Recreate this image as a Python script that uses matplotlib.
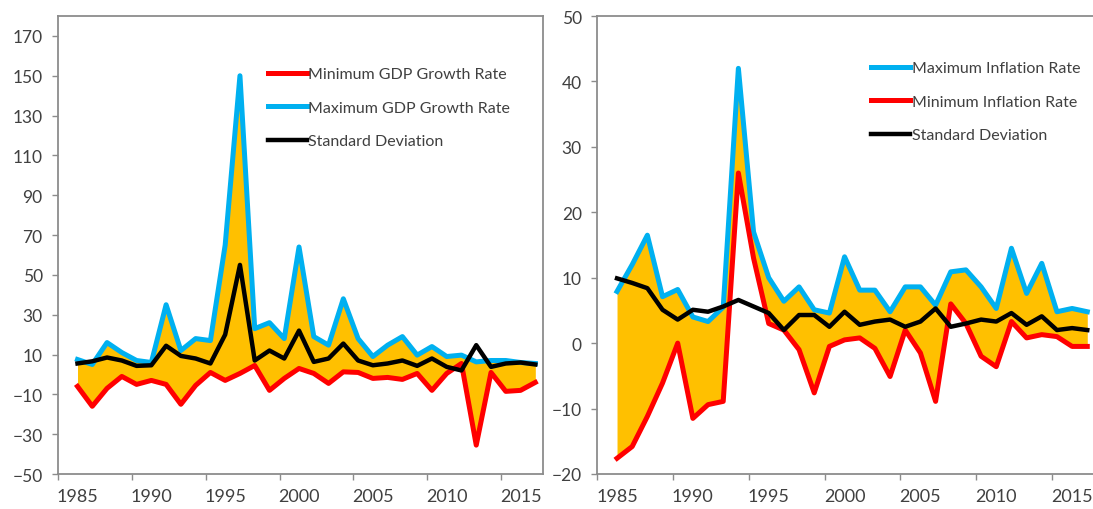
import matplotlib
matplotlib.use("Agg")
import matplotlib.pyplot as plt

plt.rcParams['font.family'] = ['Lato', 'DejaVu Sans']

years = list(range(1985, 2017))

# GDP growth rate panel
gdp_min = [-6, -16, -7, -1, -5, -3, -5, -15, -5.5, 1, -3, 0.5, 4.5, -8, -2, 3,
           0.5, -4.5, 1.3, 1, -2, -1.5, -2.5, 0.5, -8, 0.5, 5.5, -35.5, 1, -8.5, -8, -4]
gdp_max = [7.5, 5, 16, 11, 7, 6, 35, 12, 18, 17, 65, 150, 23, 26, 18, 64,
           19, 14.7, 38, 18, 9, 14.7, 19, 9.7, 14, 9, 9.7, 6.3, 7, 7, 6, 5.5]
gdp_sd = [5.5, 6.6, 8.5, 7, 4.3, 4.6, 14.4, 9.3, 8, 5.5, 20, 55, 7, 12, 8, 22,
          6.3, 8, 15.5, 7, 4.6, 5.5, 7, 4.3, 8, 3.8, 2, 14.7, 3.8, 5.5, 6, 5]

# Inflation rate panel
inf_max = [7.9, 12, 16.5, 7.1, 8.2, 4, 3.3, 5.5, 42, 17, 10, 6.4, 8.6, 5.1, 4.6, 13.2,
           8.1, 8.1, 4.8, 8.6, 8.6, 5.8, 10.9, 11.2, 8.6, 5.3, 14.5, 7.6, 12.2, 4.8, 5.3, 4.8]
inf_min = [-17.6, -15.8, -11.2, -6.1, 0, -11.5, -9.4, -8.9, 26, 13, 3, 2, -1, -7.6, -0.5, 0.5,
           0.8, -0.8, -5.1, 2, -1.5, -8.9, 6, 3, -2, -3.6, 3.3, 0.8, 1.3, 1, -0.5, -0.5]
inf_sd = [9.9, 9.2, 8.4, 5.1, 3.6, 5.1, 4.8, 5.6, 6.6, 5.6, 4.6, 2, 4.3, 4.3, 2.5, 4.8,
          2.8, 3.3, 3.6, 2.5, 3.3, 5.3, 2.5, 3, 3.6, 3.3, 4.6, 2.8, 4.1, 2, 2.3, 2]

label_years = [1985, 1990, 1995, 2000, 2005, 2010, 2015]
tick_pos = [y - 1.32 for y in label_years]

RED = '#FF0000'
BLUE = '#00B0F0'
FILL = '#FFC000'
GRAY = '#8C8C8C'
TXT = '#404040'

fig = plt.figure(figsize=(10.93, 5.10), dpi=100)
ax1 = fig.add_axes([58 / 1093, 1 - 475 / 510, 485 / 1093, 458 / 510])
ax2 = fig.add_axes([597 / 1093, 1 - 475 / 510, 510 / 1093, 458 / 510])


def style_axes(ax, xlim, ylim, yticks, box=True):
    ax.set_xlim(*xlim)
    ax.set_ylim(*ylim)
    ax.set_yticks(yticks)
    ax.set_xticks(tick_pos, labels=[''] * len(tick_pos))
    ax.set_xticks(label_years, labels=[str(y) for y in label_years], minor=True)
    ax.tick_params(axis='x', which='major', length=4, color=GRAY, width=1)
    ax.tick_params(axis='x', which='minor', length=0, pad=10, labelsize=13, labelcolor=TXT)
    ax.tick_params(axis='y', length=4, color=GRAY, width=1, pad=7, labelsize=12.5, labelcolor=TXT)
    for name, sp in ax.spines.items():
        sp.set_color(GRAY)
        sp.set_linewidth(1.3)
    if not box:
        ax.spines['right'].set_visible(False)


leg_kw = dict(loc='upper left', frameon=False, handlelength=2.45, handletextpad=0.1,
              labelspacing=1.2, fontsize=11.5, labelcolor=TXT, borderaxespad=0)

# left: GDP growth
ax1.fill_between(years, gdp_min, gdp_max, color=FILL, lw=0, zorder=1)
l_max, = ax1.plot(years, gdp_max, color=BLUE, lw=3.6, solid_joinstyle='round', zorder=2)
l_min, = ax1.plot(years, gdp_min, color=RED, lw=3.6, solid_joinstyle='round', zorder=3)
l_sd, = ax1.plot(years, gdp_sd, color='black', lw=3.2, solid_joinstyle='round', zorder=4)
style_axes(ax1, (1983.68, 2016.52), (-50, 180), list(range(-50, 171, 20)))
ax1.legend([l_min, l_max, l_sd],
           ['Minimum GDP Growth Rate', 'Maximum GDP Growth Rate', 'Standard Deviation'],
           bbox_to_anchor=(0.419, 0.902), **leg_kw)

# right: inflation
ax2.fill_between(years, inf_min, inf_max, color=FILL, lw=0, zorder=1)
r_max, = ax2.plot(years, inf_max, color=BLUE, lw=3.6, solid_joinstyle='round', zorder=2)
r_min, = ax2.plot(years, inf_min, color=RED, lw=3.6, solid_joinstyle='round', zorder=3)
r_sd, = ax2.plot(years, inf_sd, color='black', lw=3.2, solid_joinstyle='round', zorder=4)
style_axes(ax2, (1983.68, 2017.3), (-20, 50), list(range(-20, 51, 10)), box=False)
ax2.legend([r_max, r_min, r_sd],
           ['Maximum Inflation Rate', 'Minimum Inflation Rate', 'Standard Deviation'],
           bbox_to_anchor=(0.525, 0.915), **leg_kw)

fig.savefig('out.png', dpi=100)
